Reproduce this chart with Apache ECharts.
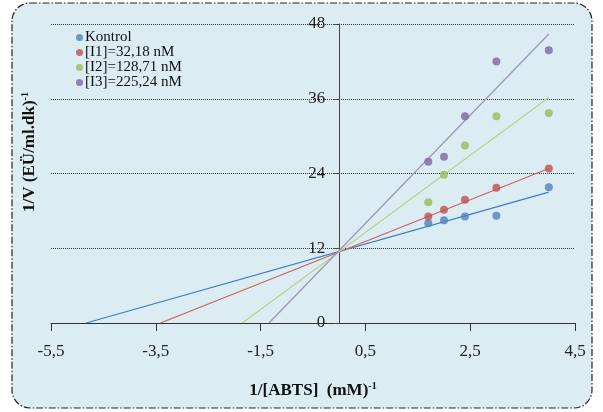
<!DOCTYPE html>
<html>
<head>
<meta charset="utf-8">
<script src="https://cdn.jsdelivr.net/npm/echarts@6/dist/echarts.min.js"></script>
<style>
  html, body { margin: 0; padding: 0; background: #fff; }
  #chartCon { width: 603px; height: 412px; }
</style>
</head>
<body>
<div id="chartCon"></div>
<script>
// 1/[ABTS] values shared by every series
const xVals = [1.7, 2.0, 2.4, 3.0, 4.0];

const seriesNames = ['Kontrol', '[I1]=32,18 nM', '[I2]=128,71 nM', '[I3]=225,24 nM'];
const kontrol = [16.0, 16.5, 17.1, 17.2, 21.8];
const i1 = [17.1, 18.2, 19.8, 21.7, 24.8];
const i2 = [19.4, 23.8, 28.5, 33.2, 33.7];
const i3 = [25.9, 26.7, 33.2, 42.0, 43.8];

// trend line ends: [x, y]
const trendKontrol = [[-4.83, 0], [4.0, 21.0]];
const trendI1 = [[-3.41, 0], [4.0, 24.8]];
const trendI2 = [[-1.85, 0], [4.0, 36.2]];
const trendI3 = [[-1.34, 0], [4.0, 46.4]];

const xTicks = [-5.5, -3.5, -1.5, 0.5, 2.5, 4.5];

const dotColors = ['#4f81bd', '#c0504d', '#9bbb59', '#8064a2'];
const lineColors = ['#3b7fc0', '#cf5f5c', '#b6d48c', '#9b94b9'];
const font = 'Liberation Serif';

const chart = echarts.init(document.getElementById('chartCon'));

const pts = (ys) => ys.map((y, i) => [xVals[i], y]);
const scatters = [kontrol, i1, i2, i3].map((ys, i) => ({
  name: seriesNames[i],
  type: 'scatter',
  data: pts(ys),
  symbolSize: 8,
  itemStyle: { color: dotColors[i] },
  z: 5
}));
const trends = [trendKontrol, trendI1, trendI2, trendI3].map((d, i) => ({
  name: 'trend' + i,
  type: 'line',
  data: d,
  showSymbol: false,
  silent: true,
  lineStyle: { width: 1.2, color: lineColors[i] },
  z: 4
}));

chart.setOption({
  backgroundColor: '#fff',
  animation: false,
  graphic: [
    {
      type: 'rect', z: -1,
      shape: { x: 12, y: 3, width: 580, height: 405, r: 18 },
      style: { fill: '#dbecf3', stroke: '#222', lineWidth: 1.2, lineDash: [7, 2, 1.5, 2] }
    },
    {
      type: 'text', x: 30, y: 152, rotation: Math.PI / 2,
      style: {
        text: '{b|1/V (EÜ/ml.dk)}{s|-1}',
        align: 'center', verticalAlign: 'middle',
        rich: {
          b: { fontFamily: font, fontWeight: 'bold', fontSize: 17, lineHeight: 20, fill: '#111' },
          s: { fontFamily: font, fontWeight: 'bold', fontSize: 10, verticalAlign: 'top', fill: '#111' }
        }
      }
    }
  ],
  grid: { left: 51, right: 28, top: 24, bottom: 89 },
  legend: {
    data: seriesNames,
    orient: 'vertical',
    left: 76, top: 30,
    padding: 0,
    icon: 'circle',
    itemWidth: 7, itemHeight: 7, itemGap: 0,
    textStyle: { fontFamily: font, fontSize: 15, lineHeight: 15, color: '#111', padding: [0, 0, 0, -3] }
  },
  xAxis: {
    type: 'value',
    min: -5.5, max: 4.5,
    name: '{b|1/[ABTS]  (mM)}{s|-1}',
    nameLocation: 'middle',
    nameGap: 58,
    nameTextStyle: {
      rich: {
        b: { fontFamily: font, fontWeight: 'bold', fontSize: 17, lineHeight: 20, color: '#111' },
        s: { fontFamily: font, fontWeight: 'bold', fontSize: 10, verticalAlign: 'top', color: '#111' }
      }
    },
    axisLine: { onZero: true, lineStyle: { color: '#333', width: 1 } },
    axisTick: { customValues: xTicks, length: 8, lineStyle: { color: '#333' } },
    axisLabel: {
      customValues: xTicks,
      margin: 20,
      fontFamily: font, fontSize: 17, color: '#222',
      formatter: (v) => String(v).replace('.', ',')
    },
    splitLine: { show: false }
  },
  yAxis: {
    type: 'value',
    min: 0, max: 48, interval: 12,
    axisLine: { show: true, onZero: false, lineStyle: { color: '#444', width: 1 } },
    axisTick: { show: true, length: 5, lineStyle: { color: '#444' } },
    axisLabel: { margin: 14, fontFamily: font, fontSize: 17, color: '#222' },
    splitLine: { lineStyle: { type: 'dotted', color: '#333', width: 1 } }
  },
  series: [...trends, ...scatters]
});

// move the whole y axis (line, ticks, labels) onto x = 0
const leftPx = chart.convertToPixel({ xAxisIndex: 0 }, -5.5);
const zeroPx = chart.convertToPixel({ xAxisIndex: 0 }, 0);
chart.setOption({ yAxis: { offset: -(zeroPx - leftPx) } });
</script>
</body>
</html>
